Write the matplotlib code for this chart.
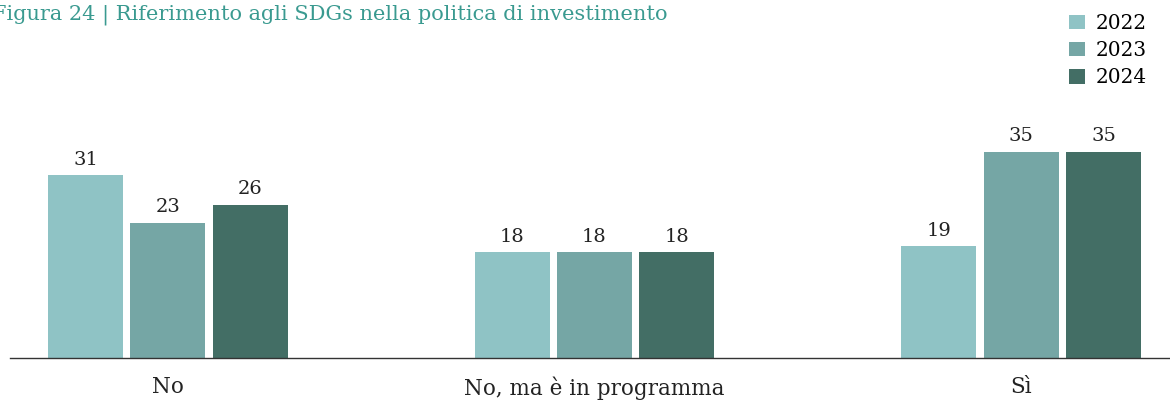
import matplotlib

matplotlib.use("Agg")
import matplotlib.pyplot as plt
import numpy as np
from matplotlib.patches import Patch

categories = ["No", "No, ma è in programma", "Sì"]
years = ["2022", "2023", "2024"]
values_2022 = [31, 18, 19]
values_2023 = [23, 18, 35]
values_2024 = [26, 18, 35]

colors = ["#8fc3c5", "#75a6a5", "#436e65"]
title_color = "#3a9a90"
text_color = "#222222"

plt.rcParams["font.family"] = ["DejaVu Serif"]

fig = plt.figure(figsize=(11.7, 4.01), dpi=100)
ax = fig.add_axes([10 / 1170, 43 / 401, 1160 / 1170, 358 / 401])

x = np.arange(len(categories))
width = 0.176
step = 0.193
series = [values_2022, values_2023, values_2024]
for i, (vals, col) in enumerate(zip(series, colors)):
    pos = x + (i - 1) * step
    bars = ax.bar(pos, vals, width=width, color=col, zorder=2)
    for b, v in zip(bars, vals):
        ax.text(b.get_x() + b.get_width() / 2, v + 1.1, str(v),
                ha="center", va="bottom", fontsize=14, color=text_color)

ax.set_xlim(-0.370, 2.349)
ax.set_ylim(0, 60.8)
ax.axhline(0, color="#333333", linewidth=1.0, zorder=3, clip_on=False)
for s in ax.spines.values():
    s.set_visible(False)
ax.set_yticks([])
ax.set_xticks(x)
ax.set_xticklabels(categories, fontsize=15.5, color=text_color)
ax.tick_params(axis="x", length=0, pad=13)

fig.text(-0.007, 0.99, "Figura 24 | Riferimento agli SDGs nella politica di investimento",
         ha="left", va="top", fontsize=15, color=title_color)

handles = [Patch(facecolor=c, edgecolor="none") for c in colors]
fig.legend(handles, years, loc="upper right", bbox_to_anchor=(0.987, 0.985),
           frameon=False, fontsize=14.5, handlelength=0.75, handleheight=0.75,
           handletextpad=0.55, labelspacing=0.4, borderaxespad=0)

fig.savefig("out.png", dpi=100)
